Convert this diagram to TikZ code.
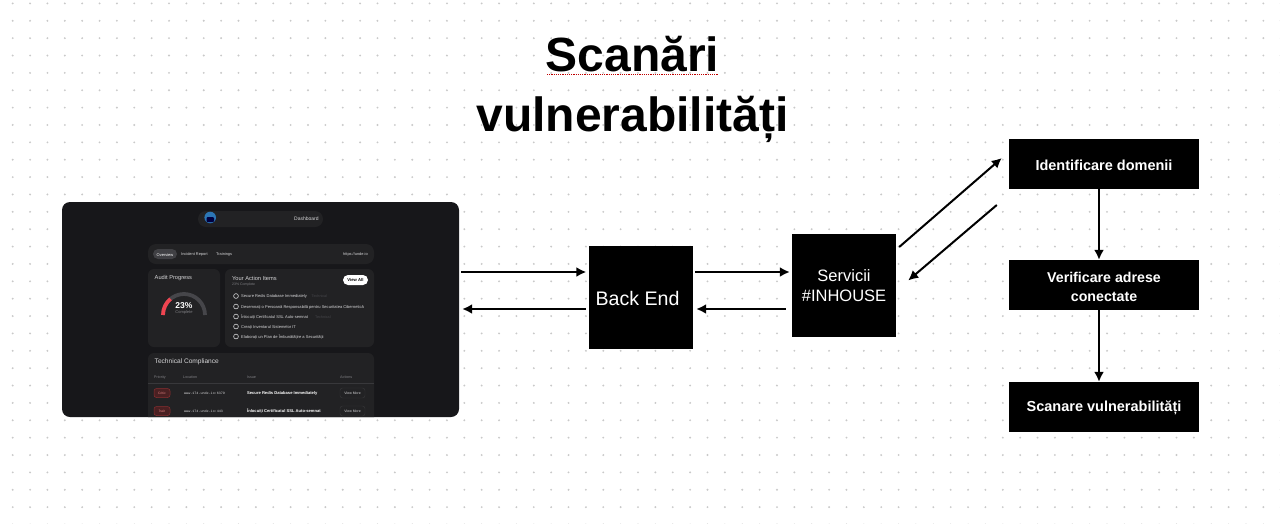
\documentclass[tikz,border=0pt]{standalone}
\usepackage{fontspec}
\setmainfont{Liberation Sans}
\setmonofont{Liberation Mono}
\usetikzlibrary{arrows.meta,calc}
\newcommand{\fsz}[1]{\fontsize{#1}{#1}\selectfont}
\definecolor{panelbg}{HTML}{17171A}
\definecolor{cardbg}{HTML}{222224}
\definecolor{pillbg}{HTML}{404044}
\definecolor{softtxt}{HTML}{D6D6D8}
\definecolor{dimtxt}{HTML}{808084}
\definecolor{gaugegrey}{HTML}{46464A}
\definecolor{gaugered}{HTML}{EF4450}
\definecolor{badgebg}{HTML}{4A2022}
\definecolor{badgeline}{HTML}{8A2E30}
\definecolor{badgetxt}{HTML}{E08080}
\definecolor{btnline}{HTML}{38383B}
\tikzset{
  x=1pt,y=-1pt,
  blackbox/.style={fill=black,text=white,inner sep=0pt,align=center},
  flow/.style={draw=black,line width=2pt,-{Latex[length=10pt,width=10pt]}},
  lbl/.style={inner sep=0pt,anchor=west,text=softtxt,font=\fsz{4},yshift=-0.6pt},
  clbl/.style={lbl,anchor=center},
  dim/.style={lbl,text=dimtxt,font=\fsz{3.7}},
  head/.style={lbl,text=softtxt,font=\fsz{5.7}},
  card/.style={fill=cardbg,rounded corners=6pt},
}
\begin{document}
\begin{tikzpicture}
\useasboundingbox (0,0) rectangle (1280,523);
\fill[white] (0,0) rectangle (1280,523);
% dot grid
\fill[black!21] foreach \i in {0,...,73} { foreach \j in {0,...,30} { ({12.7+17.37*\i},{3.4+17.37*\j}) circle (1.05) } };

% title
\node[inner sep=0pt,align=center,font=\fontsize{48}{60}\bfseries\selectfont,text=black] (title) at (632.5,89.5) {Scanări\\vulnerabilități};
\draw[red!75!black,line width=0.9pt,dash pattern=on 1.1pt off 1.1pt] (547,74.5) -- (718,74.5);

% dashboard panel
\node[fill=panelbg,rounded corners=8pt,minimum width=397pt,minimum height=215pt,inner sep=0pt] (panel) at (260.5,309.5) {};
\begin{scope}
\clip[rounded corners=8pt] (62,202) rectangle (459,417);
\fill[fill=cardbg,rounded corners=8pt] (198,211) rectangle (323,227);
\fill[fill=cardbg,rounded corners=8pt] (148,244) rectangle (374,264);
\fill[fill=pillbg,rounded corners=5pt] (153,249) rectangle (177,259);
\fill[card] (148,269) rectangle (220,347);
\fill[card] (225,269) rectangle (374,347);
\fill[card] (148,353) rectangle (374,430);
% logo
\fill[cyan!60!blue!85!black] (210.2,217.5) circle (5.8);
\fill[black!75!blue,rounded corners=1pt] (206.5,217) rectangle (214,222);
% top texts
\node[lbl,text=softtxt,font=\fsz{5}] (dash) at (294,218) {Dashboard};
\node[clbl,text=white] (tab1) at (165,254) {Overview};
\node[lbl,font=\fsz{3.9}] (tab2) at (181,254) {Incident Report};
\node[lbl,font=\fsz{3.9}] (tab3) at (216,254) {Trainings};
\node[lbl,font=\fsz{3.9}] (url) at (343,254) {https://unde.io};
% audit card
\node[head] (audit) at (154.5,277.5) {Audit Progress};
\draw[gaugegrey,line width=3.8pt] (163,315) arc[start angle=180,end angle=360,radius=21];
\draw[gaugered,line width=3.8pt] (163,315) arc[start angle=180,end angle=230,radius=21];
\node[clbl,text=white,font=\fsz{8.5}\bfseries] (pct) at (184,305) {23\%};
\node[clbl,text=dimtxt,font=\fsz{4}] (compl) at (184,312) {Complete};
% action card
\node[head] (items) at (232,277.5) {Your Action Items};
\node[dim,font=\fsz{3.5}] (itemsub) at (232,284) {23\% Complete};
\node[fill=white,rounded corners=5pt,minimum width=25pt,minimum height=10pt,inner sep=0pt,text=black,font=\fsz{4.2}\bfseries] (viewall) at (355.5,280) {View All};
\foreach \yy/\tx in {296/Secure Redis Database Immediately,306.5/Desemnați o Persoană Responsabilă pentru Securitatea Cibernetică,316.5/Înlocuiți Certificatul SSL Auto-semnat,326.5/Creați Inventarul Sistemelor IT,336.5/Elaborați un Plan de Îmbunătățire a Securității}{
  \draw[softtxt,line width=0.6pt] (236,\yy) circle (2.4);
  \node[lbl,font=\fsz{4.05}] at (241,\yy) {\tx};
}
\node[dim,text=gaugegrey] (tech1) at (311.5,296) {Technical};
\node[dim,text=gaugegrey] (tech2) at (315,316.5) {Technical};
% compliance card
\node[head,font=\fsz{6.6}] (tc) at (154.5,361) {Technical Compliance};
\node[dim] (h1) at (154,377) {Priority};
\node[dim] (h2) at (183,377) {Location};
\node[dim] (h3) at (247,377) {Issue};
\node[dim] (h4) at (340,377) {Actions};
\draw[btnline,line width=0.4pt] (148,383) -- (374,383);
\foreach \yy/\bd/\loc/\iss in {393/Critic/www.174.unde.io:6379/Secure Redis Database Immediately,411/Înalt/www.174.unde.io:443/Înlocuiți Certificatul SSL Auto-semnat}{
  \node[fill=badgebg,draw=badgeline,rounded corners=2.5pt,line width=0.5pt,minimum width=16pt,minimum height=9pt,inner sep=0pt,text=badgetxt,font=\fsz{3.3}] at (162,\yy) {\bd};
  \node[lbl,font=\ttfamily\fsz{3.4}] at (184,\yy) {\loc};
  \node[lbl,text=white,font=\fsz{4.1}\bfseries] at (247,\yy) {\iss};
  \node[draw=btnline,line width=0.4pt,rounded corners=2.5pt,minimum width=25pt,minimum height=10pt,inner sep=0pt,text=softtxt,font=\fsz{3.5}] at (352.5,\yy) {View More};
}
\end{scope}

% boxes
\node[blackbox,minimum width=104pt,minimum height=103pt] (be) at (641,297.5) {};
\node[inner sep=0pt,text=white,font=\fsz{19.6}] (belbl) at (637.5,298.5) {Back End};
\node[blackbox,minimum width=104pt,minimum height=103pt,font=\fontsize{16.5}{20.5}\selectfont] (svc) at (844,285.5) {Servicii\\\#INHOUSE};
\node[blackbox,minimum width=190pt,minimum height=50pt] (id) at (1104,164) {};
\node[inner sep=0pt,text=white,font=\fsz{14.5}\bfseries] (idlbl) at (1104,165) {Identificare domenii};
\node[blackbox,minimum width=190pt,minimum height=50pt] (ver) at (1104,285) {};
\node[inner sep=0pt,align=center,text=white,font=\fontsize{14.2}{19}\bfseries\selectfont] (verlbl) at (1104,287) {Verificare adrese\\conectate};
\node[blackbox,minimum width=190pt,minimum height=50pt] (scan) at (1104,407) {};
\node[inner sep=0pt,text=white,font=\fsz{14.5}\bfseries] (scanlbl) at (1104,407.5) {Scanare vulnerabilități};

% connectors
\draw[flow] ([shift={(2,-25.5)}]panel.east |- be.center) -- ([shift={(-2.5,-25.5)}]be.west);
\draw[flow] ([shift={(-3,11.5)}]be.west) -- ([shift={(3,11.5)}]panel.east |- be.center);
\draw[flow] ([shift={(2,-25.5)}]be.east) -- ([shift={(-2,-25.5)}]svc.west |- be.center);
\draw[flow] ([shift={(-6,11.5)}]svc.west |- be.center) -- ([shift={(3,11.5)}]be.east);
\draw[flow] ([shift={(3,-38.5)}]svc.east) -- ([shift={(-7,-6)}]id.west);
\draw[flow] ([shift={(-12,41)}]id.west) -- ([shift={(12,-5)}]svc.east);
\draw[flow] ([xshift=-5pt]id.south) -- ([xshift=-5pt]ver.north);
\draw[flow] ([xshift=-5pt]ver.south) -- ([xshift=-5pt]scan.north);
\end{tikzpicture}
\end{document}
